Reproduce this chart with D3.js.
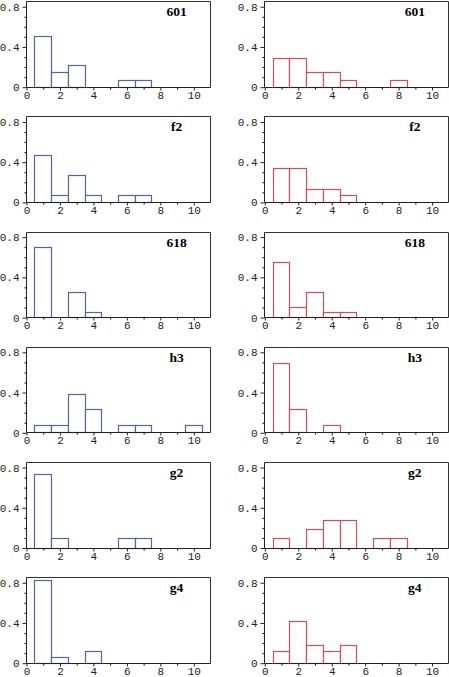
<!DOCTYPE html>
<html><head><meta charset="utf-8">
<script src="https://cdn.jsdelivr.net/npm/d3@7"></script>
<style>body{margin:0;background:#fff}svg{display:block}</style>
</head><body>
<script>
// ---- data ----
const labels = ["601", "f2", "618", "h3", "g2", "g4"];
const bins = [1, 2, 3, 4, 5, 6, 7, 8, 9, 10];
const left601 = [0.5, 0.143, 0.214, 0, 0, 0.071, 0.071, 0, 0, 0];
const leftF2  = [0.467, 0.067, 0.267, 0.067, 0, 0.067, 0.067, 0, 0, 0];
const left618 = [0.7, 0, 0.25, 0.05, 0, 0, 0, 0, 0, 0];
const leftH3  = [0.077, 0.077, 0.385, 0.231, 0, 0.077, 0.077, 0, 0, 0.077];
const leftG2  = [0.727, 0.091, 0, 0, 0, 0.091, 0.091, 0, 0, 0];
const leftG4  = [0.824, 0.059, 0, 0.118, 0, 0, 0, 0, 0, 0];
const right601 = [0.286, 0.286, 0.143, 0.143, 0.071, 0, 0, 0.071, 0, 0];
const rightF2  = [0.333, 0.333, 0.133, 0.133, 0.067, 0, 0, 0, 0, 0];
const right618 = [0.55, 0.1, 0.25, 0.05, 0.05, 0, 0, 0, 0, 0];
const rightH3  = [0.692, 0.231, 0, 0.077, 0, 0, 0, 0, 0, 0];
const rightG2  = [0.091, 0, 0.182, 0.273, 0.273, 0, 0.091, 0.091, 0, 0];
const rightG4  = [0.118, 0.412, 0.176, 0.118, 0.176, 0, 0, 0, 0, 0];
const xTicks = [0, 2, 4, 6, 8, 10];
const yTicks = [0, 0.4, 0.8];
const yTickLabels = ["0", "0.4", "0.8"];

const leftSeries = [left601, leftF2, left618, leftH3, leftG2, leftG4];
const rightSeries = [right601, rightF2, right618, rightH3, rightG2, rightG4];

// ---- layout ----
const W = 449, H = 677;
const svg = d3.select("body").append("svg").attr("width", W).attr("height", H);
const colX = [26, 264.3];
const colColor = ["#52679f", "#d24f5a"];
const zero0 = 86.7, rowStep = 115.2;
const unitX = 16.73, unitY = 100.6;
const yMax = 0.85;

function panel(col, row, values, label) {
  const x0 = colX[col];
  const zy = zero0 + row * rowStep;
  const x = d3.scaleLinear().domain([0, 11]).range([x0, x0 + 11 * unitX]);
  const y = d3.scaleLinear().domain([0, yMax]).range([zy, zy - yMax * unitY]);
  const g = svg.append("g");

  // bars
  g.selectAll("rect.bar").data(bins.map((b, i) => ({b, v: values[i]})).filter(d => d.v > 0))
    .enter().append("rect").attr("class", "bar")
    .attr("x", d => Math.round(x(d.b - 0.5)) + 0.5)
    .attr("y", d => Math.round(y(d.v)) + 0.5)
    .attr("width", d => Math.round(x(d.b + 0.5)) - Math.round(x(d.b - 0.5)))
    .attr("height", d => Math.round(zy) - Math.round(y(d.v)))
    .attr("fill", "#fff").attr("stroke", colColor[col]).attr("stroke-width", 1.2);

  // frame top/right
  const xr = Math.round(x(11)) + 0.5, yt = Math.round(y(yMax)) + 0.5;
  g.append("path").attr("d", `M${Math.round(x(0)) + 0.5},${yt}H${xr}V${Math.round(zy) + 0.5}`)
    .attr("fill", "none").attr("stroke", "#333").attr("stroke-width", 1);

  // x axis
  const xa = g.append("g").attr("transform", `translate(0.5,${Math.round(zy) + 0.5})`)
    .call(d3.axisBottom(x).tickValues(xTicks).tickSize(3).tickPadding(1).tickFormat(d3.format("d")));
  g.append("g").attr("transform", `translate(0.5,${Math.round(zy) + 0.5})`)
    .call(d3.axisBottom(x).tickValues([1, 3, 5, 7, 9]).tickSize(2).tickFormat(""))
    .call(s => s.select(".domain").remove());

  // y axis
  const ya = g.append("g").attr("transform", `translate(${Math.round(x(0)) + 0.5},0.5)`)
    .call(d3.axisLeft(y).tickValues(yTicks).tickSize(4).tickPadding(3)
      .tickFormat((d, i) => yTickLabels[i]));
  g.append("g").attr("transform", `translate(${Math.round(x(0)) + 0.5},0.5)`)
    .call(d3.axisLeft(y).tickValues([0.1, 0.2, 0.3, 0.5, 0.6, 0.7]).tickSize(2).tickFormat(""))
    .call(s => s.select(".domain").remove());

  [xa, ya].forEach(a => {
    a.selectAll("text").attr("font-family", "'Liberation Mono', 'DejaVu Sans Mono', monospace")
      .attr("font-size", 11).attr("fill", "#222");
    a.selectAll("line,path").attr("stroke", "#222");
  });
  ya.select(".domain").attr("d", `M0,${Math.round(zy)}V${Math.round(y(yMax))}`);
  xa.select(".domain").attr("d", `M${Math.round(x(0))},0H${Math.round(x(11))}`);

  g.append("text").attr("x", x(9)).attr("y", zy - 70.5)
    .attr("text-anchor", "middle")
    .attr("font-family", "'Liberation Serif', 'Times New Roman', serif")
    .attr("font-weight", "bold").attr("font-size", 13.5).attr("fill", "#000")
    .text(label);
}

labels.forEach((lab, r) => {
  panel(0, r, leftSeries[r], lab);
  panel(1, r, rightSeries[r], lab);
});
</script>
</body></html>
